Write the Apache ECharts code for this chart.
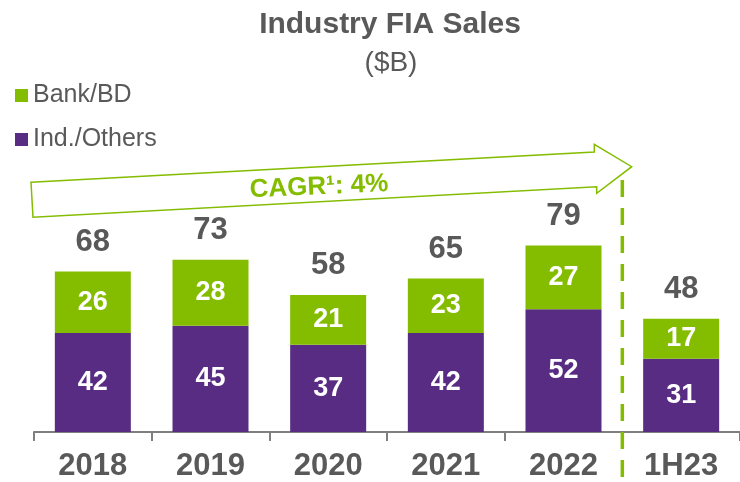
<!DOCTYPE html>
<html>
<head>
<meta charset="utf-8">
<script src="https://cdn.jsdelivr.net/npm/echarts@6/dist/echarts.min.js"></script>
<style>
  html, body { margin: 0; padding: 0; background: #fff; }
  #main { width: 740px; height: 482px; }
</style>
</head>
<body>
<div id="main"></div>
<script>
var categories = ['2018', '2019', '2020', '2021', '2022', '1H23'];
var indOthers = [42, 45, 37, 42, 52, 31];
var bankBD = [26, 28, 21, 23, 27, 17];
var totals = [68, 73, 58, 65, 79, 48];

var green = '#84BD00';
var purple = '#582C83';
var gray = '#595959';
var font = '"Liberation Sans", Arial, sans-serif';

var chart = echarts.init(document.getElementById('main'));

var option = {
    animation: false,
    textStyle: { fontFamily: font },
    title: [{
        text: 'Industry FIA Sales',
        left: 385,
        top: 5,
        textAlign: 'center',
        textStyle: { fontFamily: font, fontSize: 30, fontWeight: 'bold', color: gray }
    }, {
        text: '($B)',
        left: 386,
        top: 44,
        textAlign: 'center',
        textStyle: { fontFamily: font, fontSize: 28, fontWeight: 'normal', color: gray }
    }],
    legend: {
        orient: 'vertical',
        left: 10,
        top: 78,
        itemWidth: 13,
        itemHeight: 13,
        itemGap: 19,
        icon: 'rect',
        data: ['Bank/BD', 'Ind./Others'],
        textStyle: { fontFamily: font, fontSize: 25, color: gray }
    },
    grid: { left: 34, right: -5, top: 196, bottom: 50 },
    xAxis: {
        type: 'category',
        data: categories,
        axisLine: { show: true, lineStyle: { color: '#7f7f7f', width: 2 } },
        axisTick: { show: true, length: 9, interval: 0, lineStyle: { color: '#7f7f7f', width: 2 } },
        axisLabel: {
            interval: 0,
            margin: 19,
            fontFamily: font,
            fontSize: 31,
            fontWeight: 'bold',
            color: gray
        }
    },
    yAxis: { type: 'value', min: 0, max: 100, show: false },
    series: [{
        name: 'Ind./Others',
        type: 'bar',
        stack: 'fia',
        barWidth: 76,
        data: indOthers,
        itemStyle: { color: purple },
        label: {
            show: true, position: 'inside', color: '#fff',
            fontFamily: font, fontSize: 27, fontWeight: 'bold'
        }
    }, {
        name: 'Bank/BD',
        type: 'bar',
        stack: 'fia',
        barWidth: 76,
        data: bankBD,
        itemStyle: { color: green },
        label: {
            show: true, position: 'inside', color: '#fff',
            fontFamily: font, fontSize: 27, fontWeight: 'bold'
        }
    }, {
        name: 'Total',
        type: 'bar',
        barWidth: 76,
        barGap: '-100%',
        z: 1,
        data: totals,
        itemStyle: { color: 'rgba(0,0,0,0)' },
        label: {
            show: true, position: 'top', distance: 14, color: gray,
            fontFamily: font, fontSize: 31, fontWeight: 'bold'
        }
    }]
};

chart.setOption(option);

// dashed separator between 2022 and 1H23
var x1 = chart.convertToPixel({ xAxisIndex: 0 }, '2022');
var x2 = chart.convertToPixel({ xAxisIndex: 0 }, '1H23');
var sepX = (x1 + x2) / 2;

chart.setOption({
    graphic: [{
        type: 'polygon',
        shape: {
            points: [[31, 182.3], [594.3, 152], [594.3, 144.3], [631.7, 166.7],
                     [596.7, 193.3], [596.7, 186.7], [33, 217.3]]
        },
        style: { fill: '#fff', stroke: green, lineWidth: 1.5 },
        z: 5
    }, {
        type: 'text',
        x: 319,
        y: 187,
        rotation: 0.045,
        style: {
            text: 'CAGR¹: 4%',
            fill: green,
            font: 'bold 26px ' + font,
            textAlign: 'center',
            textVerticalAlign: 'middle'
        },
        z: 6
    }, {
        type: 'line',
        shape: { x1: sepX, y1: 180, x2: sepX, y2: 482 },
        style: { stroke: green, lineWidth: 3.5, lineDash: [17, 11] },
        z: 5
    }]
});
</script>
</body>
</html>
